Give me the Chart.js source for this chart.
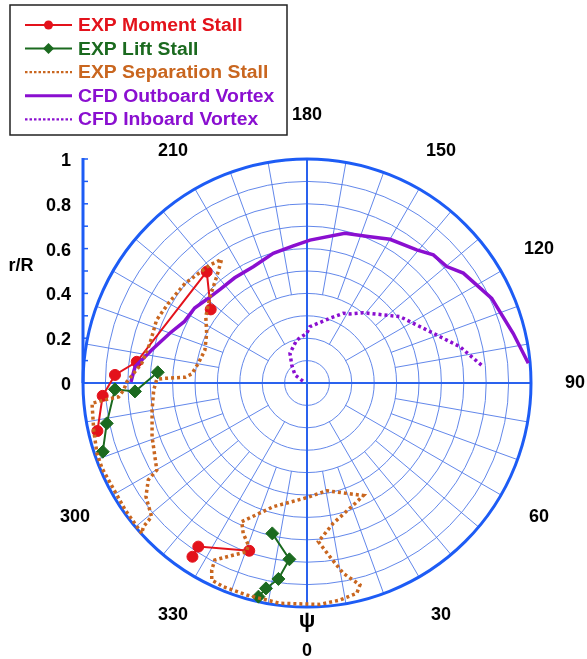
<!DOCTYPE html>
<html><head><meta charset="utf-8">
<script src="https://cdn.jsdelivr.net/npm/chart.js@4.4.1/dist/chart.umd.min.js"></script>
<style>html,body{margin:0;padding:0;background:#fff}canvas{display:block}</style>
</head><body>
<canvas id="c" width="587" height="659"></canvas>
<script>
// ---- data (r/R and azimuth psi in degrees) ----
const psiTickAngles = [0, 30, 60, 90, 120, 150, 180, 210, 300, 330];
const psiTickLabels = ['0', '30', '60', '90', '120', '150', '180', '210', '300', '330'];
const rTickValues = [0, 0.2, 0.4, 0.6, 0.8, 1];
const rTickLabels = ['0', '0.2', '0.4', '0.6', '0.8', '1'];
const seriesNames = ['EXP Moment Stall', 'EXP Lift Stall', 'EXP Separation Stall', 'CFD Outboard Vortex', 'CFD Inboard Vortex'];

const momentA_psi = [282.9, 273.6, 267.6, 262.9, 222.0, 232.6];
const momentA_r   = [0.960, 0.914, 0.858, 0.766, 0.669, 0.541];
const momentB_psi = [326.6, 326.4, 341.0];
const momentB_r   = [0.929, 0.877, 0.792];

const liftA_psi = [288.6, 281.4, 271.9, 272.8, 265.9];
const liftA_r   = [0.962, 0.912, 0.858, 0.769, 0.668];
const liftB_psi = [347.0, 354.3, 351.7, 348.7, 347.2];
const liftB_r   = [0.689, 0.791, 0.884, 0.935, 0.978];

const sepA_psi = [312.3, 305.0, 298.0, 292.6, 288.5, 282.4, 275.4, 274.6, 274.2, 272.2, 269.6, 263.2, 255.8, 247.3, 240.1, 230.7, 219.4, 214.6, 220.3, 228.3, 236.8, 243.6, 252.1, 259.7, 265.5, 267.3, 268.1, 268.6, 272.6, 279.9, 289.1, 300.1, 301.4, 305.2, 310.7, 311.3, 312.3];
const sepA_r   = [0.997, 0.990, 0.985, 0.991, 0.989, 0.975, 0.964, 0.889, 0.843, 0.819, 0.804, 0.743, 0.723, 0.728, 0.714, 0.703, 0.682, 0.671, 0.623, 0.580, 0.540, 0.500, 0.479, 0.493, 0.516, 0.545, 0.634, 0.671, 0.685, 0.702, 0.732, 0.775, 0.830, 0.880, 0.915, 0.972, 0.997];
const sepB_psi = [334.8, 344.8, 359.8, 10.4, 26.6, 20.8, 10.6, 4.1, 7.5, 10.8, 14.7, 13.3, 8.6, 3.3, 353.0, 344.1, 337.7, 334.2, 333.0, 332.5, 336.0, 340.3, 340.1, 337.0, 334.8];
const sepB_r   = [0.684, 0.572, 0.512, 0.489, 0.562, 0.583, 0.637, 0.710, 0.782, 0.865, 0.932, 0.965, 0.980, 0.990, 0.991, 0.984, 0.983, 0.977, 0.937, 0.891, 0.845, 0.800, 0.769, 0.729, 0.684];

const outboard_psi = [269.7, 264.6, 258.0, 249.8, 243.3, 236.3, 229.9, 222.5, 214.5, 204.8, 194.6, 185.7, 178.8, 165.8, 156.7, 150.0, 140.5, 135.4, 129.8, 125.1, 114.6, 103.5, 95.1];
const outboard_r   = [0.786, 0.771, 0.709, 0.650, 0.612, 0.603, 0.582, 0.570, 0.570, 0.572, 0.598, 0.615, 0.638, 0.689, 0.711, 0.741, 0.770, 0.803, 0.812, 0.853, 0.907, 0.947, 0.992];

const inboard_psi = [245.0, 236.3, 220.4, 209.8, 193.5, 180.3, 177.0, 160.4, 152.5, 148.1, 141.3, 125.5, 111.5, 103.3, 95.3];
const inboard_r   = [0.020, 0.064, 0.105, 0.153, 0.197, 0.222, 0.252, 0.307, 0.351, 0.363, 0.402, 0.510, 0.606, 0.702, 0.790];

// ---- styles ----
const RED = '#e3121b', GREEN = '#1b6a1f', ORANGE = '#c9661f', PURPLE = '#8a0fd0';
const GRID = '#5079e8', AXIS = '#2a62ee', OUTER = '#1d5cf5';
const FONT = 'bold 18px "Liberation Sans", Arial, sans-serif';

function polar(rArr, psiArr) {
  return rArr.map((r, i) => {
    const a = psiArr[i] * Math.PI / 180;
    return { x: r * Math.sin(a), y: -r * Math.cos(a) };
  });
}

function lineDs(label, rArr, psiArr, color, width, dash, ptStyle, ptRadius) {
  return {
    label, data: polar(rArr, psiArr), showLine: true, fill: false, tension: 0,
    borderColor: color, borderWidth: width, borderDash: dash || [],
    backgroundColor: color, pointBackgroundColor: color, pointBorderColor: color,
    pointStyle: ptStyle || 'circle', pointRadius: ptRadius || 0, pointBorderWidth: 1,
    clip: false
  };
}

const datasets = [
  lineDs(seriesNames[2], sepA_r, sepA_psi, ORANGE, 3.5, [3, 3]),
  lineDs(seriesNames[2], sepB_r, sepB_psi, ORANGE, 3.5, [3, 3]),
  lineDs(seriesNames[4], inboard_r, inboard_psi, PURPLE, 3.5, [3, 3]),
  lineDs(seriesNames[3], outboard_r, outboard_psi, PURPLE, 3.5),
  lineDs(seriesNames[1], liftA_r, liftA_psi, GREEN, 2, null, 'rectRot', 6.5),
  lineDs(seriesNames[1], liftB_r, liftB_psi, GREEN, 2, null, 'rectRot', 6.5),
  lineDs(seriesNames[0], momentA_r, momentA_psi, RED, 2, null, 'circle', 5.5),
  lineDs(seriesNames[0], momentB_r, momentB_psi, RED, 2, null, 'circle', 5.5)
];

const legendStyles = [
  { color: RED, dash: [], width: 2, marker: 'circle' },
  { color: GREEN, dash: [], width: 2, marker: 'diamond' },
  { color: ORANGE, dash: [2.5, 2], width: 2.2, marker: null },
  { color: PURPLE, dash: [], width: 3, marker: null },
  { color: PURPLE, dash: [2.5, 2], width: 2.2, marker: null }
];

const polarGrid = {
  id: 'polarGrid',
  beforeDatasetsDraw(chart) {
    const { ctx, scales: { x, y } } = chart;
    const cx = x.getPixelForValue(0), cy = y.getPixelForValue(0);
    const R = x.getPixelForValue(1) - cx;
    ctx.save();
    ctx.strokeStyle = GRID; ctx.lineWidth = 0.9;
    for (let k = 1; k < 10; k++) {
      ctx.beginPath(); ctx.arc(cx, cy, R * k / 10, 0, 2 * Math.PI); ctx.stroke();
    }
    for (let a = 0; a < 360; a += 10) {
      if (a % 90 === 0) continue;
      const r0 = (a % 30 === 0) ? 0.2 : 0.4;
      const s = Math.sin(a * Math.PI / 180), c = Math.cos(a * Math.PI / 180);
      ctx.beginPath(); ctx.moveTo(cx + R * r0 * s, cy + R * r0 * c); ctx.lineTo(cx + R * s, cy + R * c); ctx.stroke();
    }
    ctx.strokeStyle = AXIS; ctx.lineWidth = 2;
    ctx.beginPath();
    ctx.moveTo(cx - R, cy); ctx.lineTo(cx + R, cy);
    ctx.moveTo(cx, cy - R); ctx.lineTo(cx, cy + R);
    ctx.stroke();
    ctx.strokeStyle = OUTER; ctx.lineWidth = 3;
    ctx.beginPath(); ctx.arc(cx, cy, R, 0, 2 * Math.PI); ctx.stroke();
    const xl = x.getPixelForValue(-1);
    ctx.beginPath(); ctx.moveTo(xl, cy); ctx.lineTo(xl, y.getPixelForValue(1) - 1); ctx.stroke();
    ctx.lineWidth = 1.5;
    for (let k = 0; k <= 10; k++) {
      const ty = y.getPixelForValue(k / 10);
      ctx.beginPath(); ctx.moveTo(xl, ty); ctx.lineTo(xl + 5, ty); ctx.stroke();
    }
    ctx.restore();
  },
  afterDraw(chart) {
    const { ctx, scales: { x, y } } = chart;
    const cx = x.getPixelForValue(0), cy = y.getPixelForValue(0);
    const R = x.getPixelForValue(1) - cx;
    ctx.save();
    ctx.font = FONT; ctx.fillStyle = '#000'; ctx.textAlign = 'center'; ctx.textBaseline = 'middle';
    psiTickAngles.forEach((a, i) => {
      const s = Math.sin(a * Math.PI / 180), c = Math.cos(a * Math.PI / 180);
      ctx.fillText(psiTickLabels[i], cx + 1.196 * R * s, cy + 1.196 * R * c);
    });
    ctx.font = 'bold 22px "Liberation Sans", Arial, sans-serif';
    ctx.fillText('ψ', cx, cy + 1.06 * R);
    ctx.font = FONT;
    ctx.textAlign = 'right';
    const xl = x.getPixelForValue(-1);
    rTickValues.forEach((v, i) => ctx.fillText(rTickLabels[i], xl - 12, y.getPixelForValue(v) + 2));
    ctx.textAlign = 'center';
    ctx.fillText('r/R', xl - 62, y.getPixelForValue(0.52));
    // legend
    const bx = 10, by = 5, bw = 277, bh = 130;
    ctx.fillStyle = '#fff'; ctx.fillRect(bx, by, bw, bh);
    ctx.strokeStyle = '#222'; ctx.lineWidth = 1.5; ctx.strokeRect(bx, by, bw, bh);
    ctx.textAlign = 'left';
    legendStyles.forEach((st, i) => {
      const ly = 25 + i * 23.6;
      ctx.strokeStyle = st.color; ctx.lineWidth = st.width; ctx.setLineDash(st.dash);
      ctx.beginPath(); ctx.moveTo(25, ly); ctx.lineTo(72, ly); ctx.stroke();
      ctx.setLineDash([]);
      ctx.fillStyle = st.color;
      if (st.marker === 'circle') { ctx.beginPath(); ctx.arc(48.5, ly, 4.5, 0, 2 * Math.PI); ctx.fill(); }
      if (st.marker === 'diamond') {
        ctx.beginPath(); ctx.moveTo(48.5, ly - 5.5); ctx.lineTo(54, ly); ctx.lineTo(48.5, ly + 5.5); ctx.lineTo(43, ly); ctx.closePath(); ctx.fill();
      }
      ctx.save();
      ctx.translate(78, ly + 1);
      ctx.scale(1.075, 1);
      ctx.fillText(seriesNames[i], 0, 0);
      ctx.restore();
    });
    ctx.restore();
  }
};

new Chart(document.getElementById('c'), {
  type: 'scatter',
  data: { datasets },
  options: {
    responsive: false, animation: false,
    layout: { padding: { left: 83, right: 56, top: 159, bottom: 52 } },
    plugins: { legend: { display: false }, tooltip: { enabled: false } },
    scales: {
      x: { type: 'linear', min: -1, max: 1, display: false },
      y: { type: 'linear', min: -1, max: 1, display: false }
    }
  },
  plugins: [polarGrid]
});
</script>
</body></html>
